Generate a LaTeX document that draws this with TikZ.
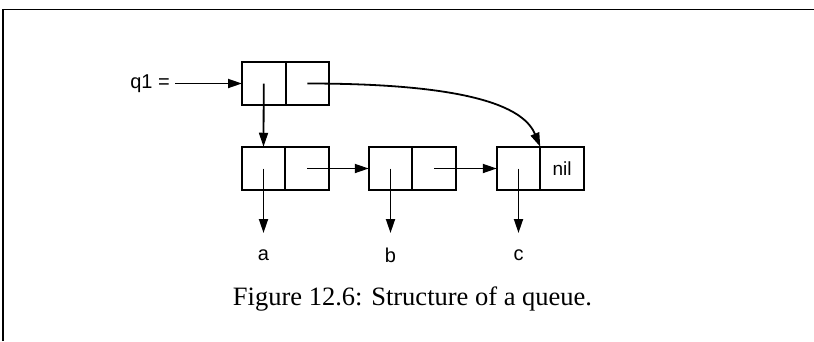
\documentclass[tikz,border=0pt]{standalone}
\usepackage{fontspec}
\setmainfont{Liberation Serif}
\newfontfamily\lblfont{Liberation Sans}
\usetikzlibrary{arrows.meta}
\begin{document}
\begin{tikzpicture}[x=1pt,y=-1pt,
  cell/.style={draw,line width=2pt,minimum width=43.5pt,minimum height=43.5pt,inner sep=0pt,outer sep=0pt,font=\lblfont\fontsize{19}{21}\selectfont},
  ptr/.style={line width=1.8pt,-{Triangle[length=14pt,width=9pt]}},
  lbl/.style={font=\lblfont\fontsize{20}{22}\selectfont,inner sep=0pt},
  frame/.style={line width=1.5pt}]
\useasboundingbox (0,0) rectangle (814,341);
\draw[frame] (3,341) -- (3,9.5) -- (814,9.5);
% top cons cell
\node[cell] (tl) at (263.75,83.5) {};
\node[cell] (tr) at (307.25,83.5) {};
% second row
\node[cell] (al) at (263.5,168.5) {};
\node[cell] (ar) at (307,168.5) {};
\node[cell] (bl) at (390.5,168.5) {};
\node[cell] (br) at (434,168.5) {};
\node[cell] (cl) at (518.5,168.5) {};
\node[cell] (cr) at (562,168.5) {nil};
% labels
\node[lbl,anchor=east] (q) at (170,83.5) {q1 =};
\coordinate (qs) at (175,83.5);
\coordinate (ea) at (263.5,233);
\coordinate (eb) at (390.5,233);
\coordinate (ec) at (518.5,233);
\node[lbl] (la) at (263.5,255) {a};
\node[lbl] (lb) at (390.5,255) {b};
\node[lbl] (lc) at (518.5,255) {c};
% pointers
\draw[ptr] (qs) -- (tl.west);
\draw[ptr] (tl.center) -- (al.north);
\draw[ptr] (tr.center) .. controls (480,83.5) and (525,110) .. (cl.north east);
\draw[ptr] (ar.center) -- (bl.west);
\draw[ptr] (br.center) -- (cl.west);
\draw[ptr] (al.center) -- (ea);
\draw[ptr] (bl.center) -- (eb);
\draw[ptr] (cl.center) -- (ec);
% caption
\node[font=\fontsize{26.5}{30}\selectfont,anchor=base] (cap) at (412.5,305) {Figure 12.6: Structure of a queue.};
\end{tikzpicture}
\end{document}
